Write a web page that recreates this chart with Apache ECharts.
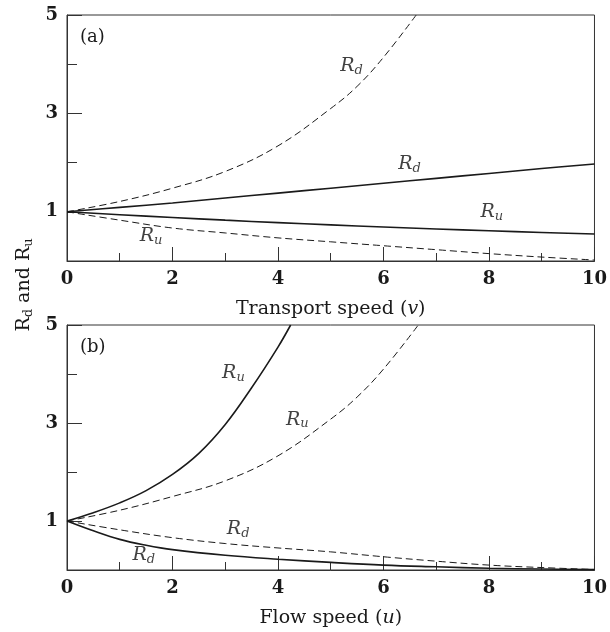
<!DOCTYPE html>
<html>
<head>
<meta charset="utf-8">
<script src="https://cdn.jsdelivr.net/npm/echarts@6/dist/echarts.min.js"></script>
<style>
html, body { margin: 0; background: #fff; }
#grafico { width: 610px; height: 632px; }
</style>
</head>
<body>
<div id="grafico"></div>
<script>
// eixos
var xLabels = [0, 2, 4, 6, 8, 10];
var yLabels = [1, 3, 5];
var yShortTicks = [0, 2, 4];

// painel (a) - velocidade de transporte v
var vFull = [0, 1, 2, 3, 4, 5, 6, 7, 8, 9, 10];
var rdSolidA = [1, 1.09, 1.18, 1.28, 1.38, 1.48, 1.58, 1.68, 1.78, 1.88, 1.97];
var ruSolidA = [1, 0.94, 0.885, 0.83, 0.78, 0.735, 0.69, 0.65, 0.615, 0.58, 0.55];
var vRdDashA = [0, 1, 2, 3, 4, 5, 5.5, 6, 6.62];
var rdDashA = [1, 1.21, 1.48, 1.82, 2.34, 3.1, 3.55, 4.14, 5];
var ruDashA = [1, 0.83, 0.67, 0.57, 0.47, 0.39, 0.31, 0.23, 0.15, 0.08, 0.02];

// painel (b) - velocidade do fluxo u
var uRuSolidB = [0, 0.5, 1, 1.5, 2, 2.5, 3, 3.5, 4, 4.24];
var ruSolidB = [1, 1.17, 1.37, 1.62, 1.95, 2.38, 2.97, 3.72, 4.55, 5];
var uRdSolidB = [0, 0.5, 1, 1.5, 2, 3, 4, 5, 6, 7, 8, 9, 10];
var rdSolidB = [1, 0.8, 0.625, 0.505, 0.415, 0.3, 0.22, 0.155, 0.1, 0.065, 0.035, 0.02, 0.01];
var uRuDashB = [0, 1, 2, 3, 4, 5, 5.5, 6, 6.66];
var ruDashB = [1, 1.22, 1.5, 1.82, 2.33, 3.08, 3.53, 4.1, 5];
var rdDashB = [1, 0.82, 0.66, 0.54, 0.45, 0.37, 0.27, 0.18, 0.1, 0.05, 0.01];

// rotulos R_d / R_u dentro dos graficos
var notasA = ['d', 'd', 'u', 'u'];
var notasAx = [5.18, 6.28, 7.84, 1.38];
var notasAy = [3.96, 1.97, 1.0, 0.51];
var notasB = ['u', 'u', 'd', 'd'];
var notasBx = [2.94, 4.15, 3.03, 1.24];
var notasBy = [4.01, 3.07, 0.84, 0.31];

var serif = 'DejaVu Serif';
var cor = '#1a1a1a';

function pares(xs, ys) {
    var out = [];
    xs.forEach(function (x, i) { out.push([x, ys[i]]); });
    return out;
}

function linha(grid, xs, ys, tracejada) {
    return {
        type: 'line',
        xAxisIndex: grid,
        yAxisIndex: grid * 2,
        data: pares(xs, ys),
        showSymbol: false,
        smooth: 0.4,
        clip: true,
        silent: true,
        lineStyle: {
            color: cor,
            width: tracejada ? 1 : 1.6,
            type: tracejada ? [7, 4] : 'solid'
        }
    };
}

function notas(grid, subs, xs, ys) {
    var data = [];
    subs.forEach(function (s, i) { data.push({ value: [xs[i], ys[i]], sub: s }); });
    return {
        type: 'scatter',
        xAxisIndex: grid,
        yAxisIndex: grid * 2,
        symbolSize: 0,
        silent: true,
        data: data,
        label: {
            show: true,
            position: 'right',
            distance: 0,
            formatter: function (p) { return '{r|R}{s|' + p.data.sub + '}'; },
            rich: {
                r: { fontFamily: serif, fontStyle: 'italic', fontSize: 19, color: '#111', lineHeight: 22 },
                s: { fontFamily: serif, fontStyle: 'italic', fontSize: 13, color: '#111', lineHeight: 12, verticalAlign: 'bottom' }
            }
        }
    };
}

function eixoX(grid, nome, letra) {
    return {
        type: 'value',
        gridIndex: grid,
        min: 0,
        max: 10,
        interval: 2,
        name: nome + '{i|' + letra + '}{n|)}',
        nameLocation: 'middle',
        nameGap: 39,
        nameTextStyle: {
            fontFamily: serif, fontSize: 19, color: cor,
            rich: {
                i: { fontFamily: serif, fontStyle: 'italic', fontSize: 19, color: cor },
                n: { fontFamily: serif, fontSize: 19, color: cor }
            }
        },
        axisLine: { show: true, lineStyle: { color: '#333', width: 1 } },
        axisTick: { show: true, inside: true, length: 14, lineStyle: { color: '#333' } },
        minorTick: { show: true, splitNumber: 2, length: 8, lineStyle: { color: '#333' } },
        splitLine: { show: false },
        axisLabel: {
            customValues: xLabels,
            margin: 9,
            fontFamily: serif, fontWeight: 'bold', fontSize: 18, color: cor
        }
    };
}

function eixosY(grid) {
    return [{
        type: 'value',
        gridIndex: grid,
        min: 0,
        max: 5,
        interval: 1,
        axisLine: { show: true, lineStyle: { color: '#333', width: 1 } },
        axisTick: { show: true, inside: true, length: 15, customValues: yLabels, lineStyle: { color: '#333' } },
        splitLine: { show: false },
        axisLabel: {
            customValues: yLabels,
            margin: 9,
            fontFamily: serif, fontWeight: 'bold', fontSize: 18, color: cor
        }
    }, {
        type: 'value',
        gridIndex: grid,
        position: 'left',
        min: 0,
        max: 5,
        interval: 1,
        axisLine: { show: false },
        axisTick: { show: true, inside: true, length: 10, customValues: yShortTicks, lineStyle: { color: '#333' } },
        splitLine: { show: false },
        axisLabel: { show: false }
    }];
}

var myChart = echarts.init(document.getElementById('grafico'));

var option = {
    backgroundColor: '#fff',
    animation: false,
    grid: [
        { left: 67, right: 12, top: 15, height: 246, show: true, borderColor: '#333', borderWidth: 1 },
        { left: 67, right: 12, top: 325, height: 245, show: true, borderColor: '#333', borderWidth: 1 }
    ],
    xAxis: [
        eixoX(0, 'Transport speed (', 'v'),
        eixoX(1, 'Flow speed (', 'u')
    ],
    yAxis: eixosY(0).concat(eixosY(1)),
    graphic: [
        {
            type: 'text', x: 80, y: 37,
            style: { text: '(a)', fontFamily: serif, fontSize: 18, fill: cor, align: 'left', verticalAlign: 'middle' }
        },
        {
            type: 'text', x: 80, y: 347,
            style: { text: '(b)', fontFamily: serif, fontSize: 18, fill: cor, align: 'left', verticalAlign: 'middle' }
        },
        {
            type: 'text', x: 24, y: 285, rotation: Math.PI / 2,
            style: {
                text: '{r|R}{s|d}{r| and R}{s|u}',
                align: 'center', verticalAlign: 'middle',
                rich: {
                    r: { fontFamily: serif, fontSize: 19, fill: cor, lineHeight: 22 },
                    s: { fontFamily: serif, fontSize: 13, fill: cor, lineHeight: 12, verticalAlign: 'bottom' }
                }
            }
        }
    ],
    series: [
        linha(0, vFull, rdSolidA, false),
        linha(0, vFull, ruSolidA, false),
        linha(0, vRdDashA, rdDashA, true),
        linha(0, vFull, ruDashA, true),
        notas(0, notasA, notasAx, notasAy),
        linha(1, uRuSolidB, ruSolidB, false),
        linha(1, uRdSolidB, rdSolidB, false),
        linha(1, uRuDashB, ruDashB, true),
        linha(1, vFull, rdDashB, true),
        notas(1, notasB, notasBx, notasBy)
    ]
};

myChart.setOption(option);
</script>
</body>
</html>
